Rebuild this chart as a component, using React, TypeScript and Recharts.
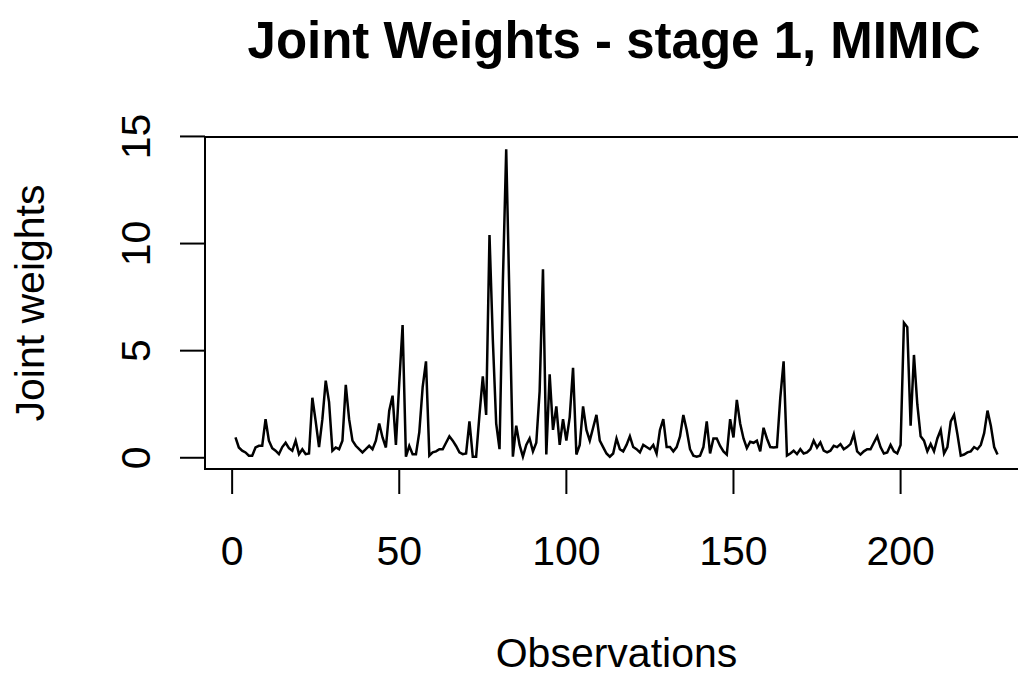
import { Label, Line, LineChart, ReferenceArea, XAxis, YAxis } from 'recharts';

const TITLE = 'Joint Weights - stage 1, MIMIC';
const X_LABEL = 'Observations';
const Y_LABEL = 'Joint weights';
const X_TICKS = [0, 50, 100, 150, 200];
const Y_TICKS = [0, 5, 10, 15];

const WEIGHTS = [
  0.95, 0.48, 0.33, 0.25, 0.1, 0.1, 0.48, 0.56, 0.56, 1.8,
  0.8, 0.45, 0.33, 0.17, 0.5, 0.7, 0.45, 0.33, 0.8, 0.17,
  0.4, 0.17, 0.2, 2.8, 1.7, 0.5, 1.8, 3.6, 2.6, 0.33,
  0.48, 0.4, 0.8, 3.4, 1.8, 0.8, 0.56, 0.4, 0.25, 0.4,
  0.56, 0.4, 0.8, 1.6, 0.95, 0.48, 2.2, 2.9, 0.6, 3.5,
  6.2, 0.05, 0.55, 0.17, 0.17, 1.2, 3.3, 4.5, 0.1, 0.25,
  0.3, 0.4, 0.4, 0.7, 1.0, 0.8, 0.55, 0.25, 0.17, 0.2,
  1.7, 0.05, 0.05, 2.0, 3.8, 2.0, 10.4, 5.5, 1.6, 0.4,
  8.2, 14.4, 7.2, 0.05, 1.5, 0.6, 0.05, 0.6, 0.9, 0.3,
  0.7, 3.1, 8.8, 0.15, 3.9, 1.3, 2.4, 0.6, 1.8, 0.8,
  1.9, 4.2, 0.15, 0.6, 2.4, 1.3, 0.8, 1.4, 2.0, 0.8,
  0.5, 0.2, 0.05, 0.2, 0.9, 0.4, 0.3, 0.6, 1.0, 0.5,
  0.4, 0.25, 0.6, 0.5, 0.4, 0.6, 0.2, 1.3, 1.8, 0.5,
  0.5, 0.3, 0.5, 1.0, 2.0, 1.3, 0.4, 0.1, 0.05, 0.1,
  0.5, 1.7, 0.2, 0.9, 0.9, 0.55, 0.3, 0.15, 1.8, 0.95,
  2.7, 1.6, 0.9, 0.45, 0.75, 0.7, 0.8, 0.3, 1.4, 0.9,
  0.5, 0.48, 0.5, 2.8, 4.5, 0.1, 0.2, 0.33, 0.17, 0.4,
  0.2, 0.25, 0.4, 0.8, 0.48, 0.72, 0.33, 0.25, 0.33, 0.56,
  0.5, 0.64, 0.4, 0.5, 0.64, 1.1, 0.3, 0.15, 0.3, 0.4,
  0.4, 0.7, 1.0, 0.5, 0.2, 0.25, 0.6, 0.3, 0.2, 0.6,
  6.3, 6.1, 1.5, 4.8, 2.5, 1.0, 0.8, 0.3, 0.64, 0.3,
  0.9, 1.3, 0.2, 0.5, 1.7, 2.0, 1.1, 0.1, 0.15, 0.25,
  0.3, 0.5, 0.4, 0.6, 1.15, 2.2, 1.5, 0.5, 0.15
];

const data = WEIGHTS.map((w, i) => ({ obs: i + 1, w }));

// base R pads each axis range by 4%
function pad(lo: number, hi: number): [number, number] {
  const d = (hi - lo) * 0.04;
  return [lo - d, hi + d];
}
const X_DOMAIN = pad(1, WEIGHTS.length);
const Y_DOMAIN = pad(Math.min(...WEIGHTS), Math.max(...WEIGHTS));

const FONT = "'Liberation Sans', Arial, Helvetica, sans-serif";

function YTick({ x, y, payload }: any) {
  return (
    <text
      x={x}
      y={y}
      transform={`rotate(-90 ${x} ${y})`}
      textAnchor='middle'
      fontSize={41}
      fontFamily={FONT}
      fill='#000'
    >
      {payload.value}
    </text>
  );
}

function XTitle({ viewBox }: any) {
  return (
    <text
      x={viewBox.x + viewBox.width / 2}
      y={viewBox.y + viewBox.height - 8}
      textAnchor='middle'
      fontSize={41}
      fontFamily={FONT}
      fill='#000'
    >
      {X_LABEL}
    </text>
  );
}

function YTitle({ viewBox }: any) {
  const x = viewBox.x + 44;
  const y = viewBox.y + viewBox.height / 2;
  return (
    <text
      x={x}
      y={y}
      transform={`rotate(-90 ${x} ${y})`}
      textAnchor='middle'
      fontSize={41}
      fontFamily={FONT}
      fill='#000'
    >
      {Y_LABEL}
    </text>
  );
}

export default function App() {
  return (
    <div style={{ position: 'absolute', left: 0, top: 0, width: 1018, height: 675, background: '#fff' }}>
      <LineChart width={1018} height={675} data={data} margin={{ top: 137, right: -10, bottom: 0, left: 0 }}>
        <text x={614} y={58} textAnchor='middle' fontSize={51} fontWeight='bold' fontFamily={FONT} fill='#000'>
          {TITLE}
        </text>
        <XAxis
          dataKey='obs'
          type='number'
          domain={X_DOMAIN}
          ticks={X_TICKS}
          interval={0}
          allowDataOverflow
          height={206}
          axisLine={false}
          tickLine={{ stroke: '#000', strokeWidth: 2 }}
          tickSize={25}
          tickMargin={42}
          tick={{ fontSize: 41, fill: '#000', fontFamily: FONT }}
        >
          <Label content={XTitle} />
        </XAxis>
        <YAxis
          type='number'
          domain={Y_DOMAIN}
          ticks={Y_TICKS}
          interval={0}
          allowDataOverflow
          width={205}
          axisLine={false}
          tickLine={{ stroke: '#000', strokeWidth: 2 }}
          tickSize={25}
          tickMargin={30}
          tick={YTick}
        >
          <Label content={YTitle} />
        </YAxis>
        <ReferenceArea
          x1={X_DOMAIN[0]}
          x2={X_DOMAIN[1]}
          y1={Y_DOMAIN[0]}
          y2={Y_DOMAIN[1]}
          fill='none'
          fillOpacity={0}
          stroke='#000'
          strokeWidth={2}
          ifOverflow='visible'
        />
        <Line
          type='linear'
          dataKey='w'
          stroke='#000'
          strokeWidth={2.5}
          dot={false}
          isAnimationActive={false}
        />
      </LineChart>
    </div>
  );
}
